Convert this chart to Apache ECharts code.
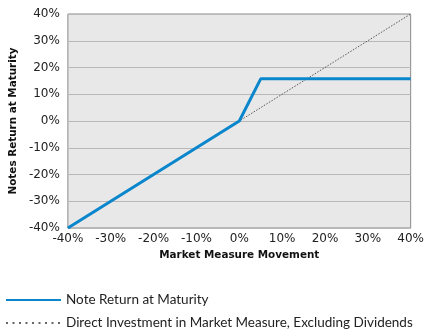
<!DOCTYPE html>
<html><head><meta charset="utf-8">
<script src="https://cdn.jsdelivr.net/npm/echarts@6/dist/echarts.min.js"></script>
<style>html,body{margin:0;padding:0;background:#fff}#c{width:427px;height:335px}</style>
</head><body><div id="c"></div>
<script>
const xTicks = [-40, -30, -20, -10, 0, 10, 20, 30, 40];
const noteX = [-40, 0, 5, 40];
const noteY = [-40, 0, 15.75, 15.75];
const directX = [-40, 40];
const directY = [-40, 40];
const seriesNames = ['Note Return at Maturity', 'Direct Investment in Market Measure, Excluding Dividends'];

const chart = echarts.init(document.getElementById('c'));
const font = 'DejaVu Sans';
const legendBase = {
  orient: 'vertical', left: 5, padding: 0, itemWidth: 55, itemHeight: 12, itemGap: 8,
  textStyle: { fontFamily: 'Lato', fontSize: 13.5, color: '#222' },
  itemStyle: { opacity: 0 }
};
chart.setOption({
  animation: false,
  grid: { left: 61, right: 6, top: 14, bottom: 107, show: true, backgroundColor: '#e8e8e8', borderColor: '#8a8a8a', borderWidth: 1 },
  legend: [
    Object.assign({}, legendBase, { top: 293, data: [seriesNames[0]] }),
    Object.assign({}, legendBase, { top: 316, data: [seriesNames[1]], lineStyle: { width: 2, type: [2, 4.5], color: '#666' } })
  ],
  xAxis: {
    type: 'value', min: -40, max: 40, interval: 10,
    name: 'Market Measure Movement', nameLocation: 'middle', nameGap: 22,
    nameTextStyle: { fontFamily: font, fontSize: 10.4, fontWeight: 'bold', color: '#111' },
    axisLine: { show: false }, axisTick: { show: false }, splitLine: { show: false },
    axisLabel: { formatter: v => v + '%', fontFamily: font, fontSize: 12, color: '#222', margin: 5, showMaxLabel: true }
  },
  yAxis: {
    type: 'value', min: -40, max: 40, interval: 10,
    name: 'Notes Return at Maturity', nameLocation: 'middle', nameGap: 44, nameRotate: 90,
    nameTextStyle: { fontFamily: font, fontSize: 10.4, fontWeight: 'bold', color: '#111' },
    axisLine: { show: false }, axisTick: { show: false },
    splitLine: { show: true, lineStyle: { color: '#b8b8b8', width: 1 } },
    axisLabel: { formatter: v => v + '%', fontFamily: font, fontSize: 12, color: '#222', margin: 8 }
  },
  series: [
    {
      name: seriesNames[1], type: 'line', symbol: 'none', z: 2,
      data: directX.map((x, i) => [x, directY[i]]),
      lineStyle: { color: '#555', width: 1, type: [1.5, 1.5] },
      itemStyle: { color: '#555' }
    },
    {
      name: seriesNames[0], type: 'line', symbol: 'none', z: 3,
      data: noteX.map((x, i) => [x, noteY[i]]),
      lineStyle: { color: '#0a86cc', width: 3 },
      itemStyle: { color: '#0a86cc' }
    }
  ]
});
</script></body></html>
